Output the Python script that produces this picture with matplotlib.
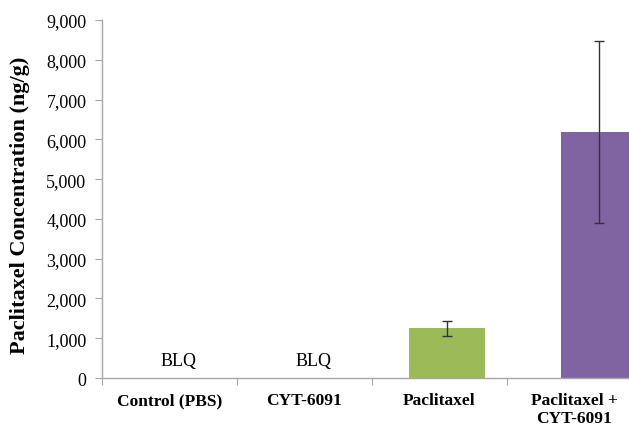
import numpy as np
import matplotlib
matplotlib.use("Agg")
import matplotlib.pyplot as plt

categories = ["Control (PBS)", "CYT-6091", "Paclitaxel", "Paclitaxel +\nCYT-6091"]
values = [0, 0, 1245, 6190]
errors = [0, 0, 195, 2290]
blq = [True, True, False, False]

plt.rcParams['font.family'] = ['Liberation Serif', 'DejaVu Serif']

fig = plt.figure(figsize=(6.29, 4.27), dpi=100)
ax = fig.add_axes([0.1617, 0.1124, 0.8583, 0.8384])

colors = ['#9BBB59', '#9BBB59', '#9BBB59', '#8064A2']
offsets = [0.06, 0.06, 0.06, 0.185]
pos = np.arange(len(categories))

for i in range(len(categories)):
    if blq[i]:
        ax.text(i + 0.07, 450, "BLQ", ha='center', va='center', fontsize=13)
        continue
    x = i + offsets[i]
    ax.bar(x, values[i], width=0.56, color=colors[i], zorder=2)
    ax.errorbar(x, values[i], yerr=errors[i], fmt='none', ecolor='#333333',
                elinewidth=1, capsize=3.5, capthick=1, zorder=3)

ax.set_xlim(-0.5, 3.5)
ax.set_ylim(0, 9000)
ax.set_yticks(np.arange(0, 9001, 1000))
ax.yaxis.set_major_formatter(matplotlib.ticker.StrMethodFormatter('{x:,.0f}'))

# ticks between categories, labels at the centres
ax.set_xticks(np.arange(-0.5, 4.0, 1.0))
ax.set_xticklabels([])
ax.set_xticks(pos, minor=True)
ax.set_xticklabels(categories, minor=True, fontweight='bold', fontsize=12.5)
ax.tick_params(axis='x', which='minor', length=0, pad=10)
ax.tick_params(axis='x', which='major', length=5, color='#A6A6A6')
ax.tick_params(axis='y', length=5, color='#A6A6A6', labelsize=13, pad=6)

for s in ['top', 'right']:
    ax.spines[s].set_visible(False)
for s in ['left', 'bottom']:
    ax.spines[s].set_color('#A6A6A6')
    ax.spines[s].set_linewidth(1)

fig.text(20.5 / 629, 1 - 205 / 427, "Paclitaxel Concentration (ng/g)", rotation=90,
         ha='center', va='center', fontweight='bold', fontsize=16)

fig.savefig("out.png", dpi=100)
